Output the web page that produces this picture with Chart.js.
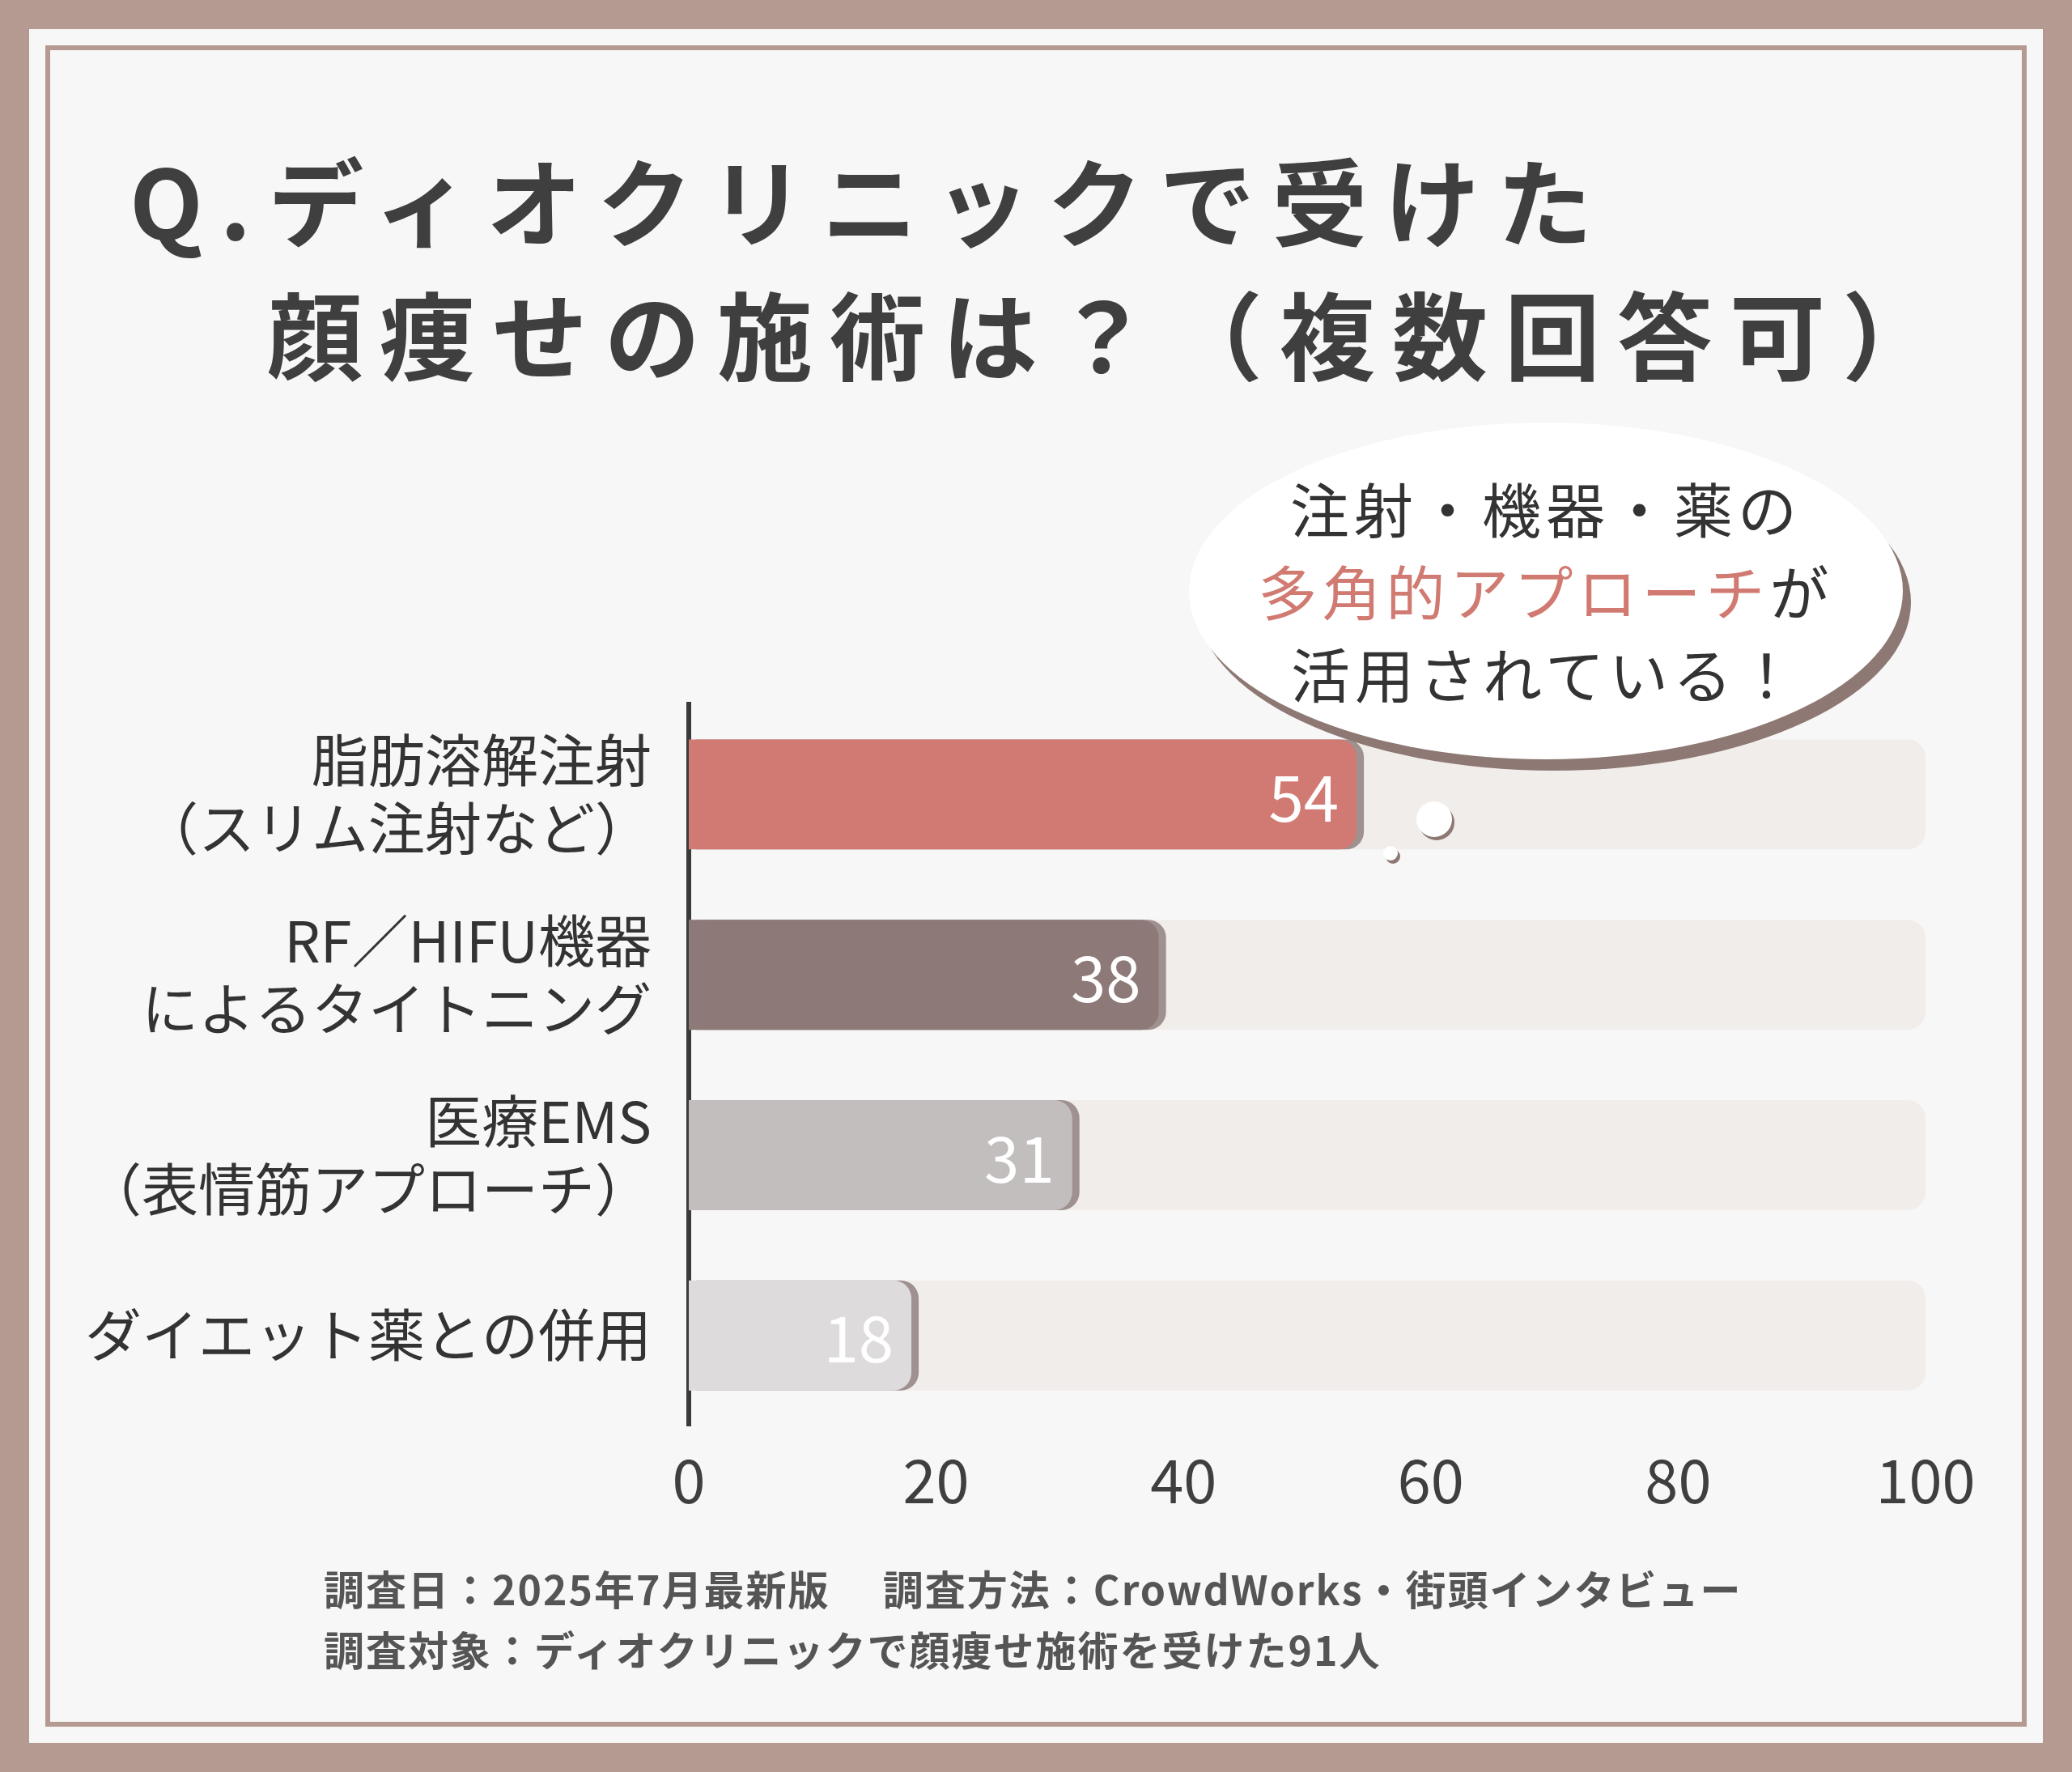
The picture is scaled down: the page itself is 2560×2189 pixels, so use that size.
<!DOCTYPE html>
<html>
<head>
<meta charset="utf-8">
<script src="https://cdn.jsdelivr.net/npm/chart.js@4/dist/chart.umd.min.js"></script>
<style>
  html, body { margin: 0; padding: 0; }
  body { width: 2560px; height: 2189px; background: #b49a90; position: relative; overflow: hidden;
         font-family: "Noto Sans CJK JP", "Noto Sans", sans-serif; }
  .panel { position: absolute; left: 36px; top: 36px; right: 36px; bottom: 36px; background: #f8f7f7; }
  .line { position: absolute; left: 20px; top: 20px; right: 20px; bottom: 20px; border: 6px solid #b49a90; }
  .title { position: absolute; font-weight: 700; font-size: 118px; color: #3f3f3f; letter-spacing: 21px; white-space: nowrap; }
  .bubble { position: absolute; left: 1469px; top: 522px; width: 882px; height: 416px; border-radius: 50%;
            background: #fff; box-shadow: 10px 14px 0 #8d7873; }
  .btext { position: absolute; left: 1469px; top: 575px; width: 882px; text-align: center; font-size: 73px;
           line-height: 102px; color: #333; letter-spacing: 6px; }
  .btext span { color: #d17a72; }
  .dot { position: absolute; border-radius: 50%; background: #fff; box-shadow: 3px 4px 0 #8d7873; }
  .foot { position: absolute; left: 400px; font-weight: 700; font-size: 50px; color: #555; white-space: nowrap; letter-spacing: 2px; }
  #wrap { position: absolute; left: 0; top: 790px; width: 2560px; height: 1098px; }
</style>
</head>
<body>
<div class="panel"><div class="line"></div></div>
<div class="title" style="left:160px; top:159px;">Q.ディオクリニックで受けた</div>
<div class="title" style="left:330px; top:324px;">顔痩せの施術は？（複数回答可）</div>
<div id="wrap"><canvas id="chart"></canvas></div>
<div class="bubble"></div>
<div class="dot" style="left:1750px; top:990px; width:44px; height:44px;"></div>
<div class="dot" style="left:1709px; top:1045px; width:18px; height:18px;"></div>
<div class="btext">注射・機器・薬の<br><span>多角的アプローチ</span>が<br>活用されている！</div>
<div class="foot" style="top:1925px;">調査日：2025年7月最新版　 調査方法：CrowdWorks・街頭インタビュー</div>
<div class="foot" style="top:2000px;">調査対象：ディオクリニックで顔痩せ施術を受けた91人</div>
<script>
const categories = [
    ['脂肪溶解注射', '（スリム注射など）'],
    ['RF／HIFU機器', 'によるタイトニング'],
    ['医療EMS', '（表情筋アプローチ）'],
    ['ダイエット薬との併用']
]
const values = [54, 38, 31, 18]
const barColors = ['#d17a74', '#8d7a78', '#c2bebe', '#dddbdb']
const trackValues = [100, 100, 100, 100]
const tickValues = [0, 20, 40, 60, 80, 100]

const font = 'Noto Sans CJK JP'

const valueLabels = {
    id: 'valueLabels',
    beforeDatasetDraw(chart, args) {
        if (args.index === 0) {
            chart.ctx.save()
            chart.ctx.shadowColor = 'rgba(90,70,70,0.55)'
            chart.ctx.shadowOffsetX = 9
            chart.ctx.shadowOffsetY = 0
        }
    },
    afterDatasetDraw(chart, args) {
        if (args.index !== 0) return
        let ctx = chart.ctx
        ctx.restore()
        ctx.save()
        ctx.font = '78px "' + font + '"'
        ctx.fillStyle = '#fff'
        ctx.textAlign = 'right'
        ctx.textBaseline = 'middle'
        chart.getDatasetMeta(0).data.forEach((bar, i) => {
            ctx.fillText(values[i], bar.x - 22, bar.y + 4)
        })
        ctx.restore()
    }
}

new Chart(document.getElementById('chart'), {
    type: 'bar',
    data: {
        labels: categories,
        datasets: [{
            data: values,
            backgroundColor: barColors,
            borderRadius: { topRight: 22, bottomRight: 22 },
            borderSkipped: false,
            order: 1
        }, {
            data: trackValues,
            backgroundColor: '#f1edeb',
            borderRadius: 22,
            borderSkipped: false,
            order: 2
        }]
    },
    plugins: [valueLabels],
    options: {
        indexAxis: 'y',
        responsive: true,
        maintainAspectRatio: false,
        animation: false,
        layout: { padding: { right: 181, top: 0, bottom: 0 } },
        datasets: { bar: { grouped: false, barPercentage: 0.61, categoryPercentage: 1 } },
        plugins: { legend: { display: false }, tooltip: { enabled: false } },
        scales: {
            x: {
                min: 0, max: 100,
                afterBuildTicks: (axis) => { axis.ticks = tickValues.map(v => ({ value: v })) },
                grid: { display: false },
                border: { display: false },
                ticks: { color: '#3f3f3f', padding: 15, font: { family: font, size: 74 } }
            },
            y: {
                afterFit: (axis) => { axis.width = 851 },
                grid: { display: false },
                border: { display: true, color: '#3a3a3a', width: 6 },
                ticks: { color: '#333', padding: 38, font: { family: font, size: 70 }, lineHeight: 1.25 }
            }
        }
    }
})
</script>
</body>
</html>
